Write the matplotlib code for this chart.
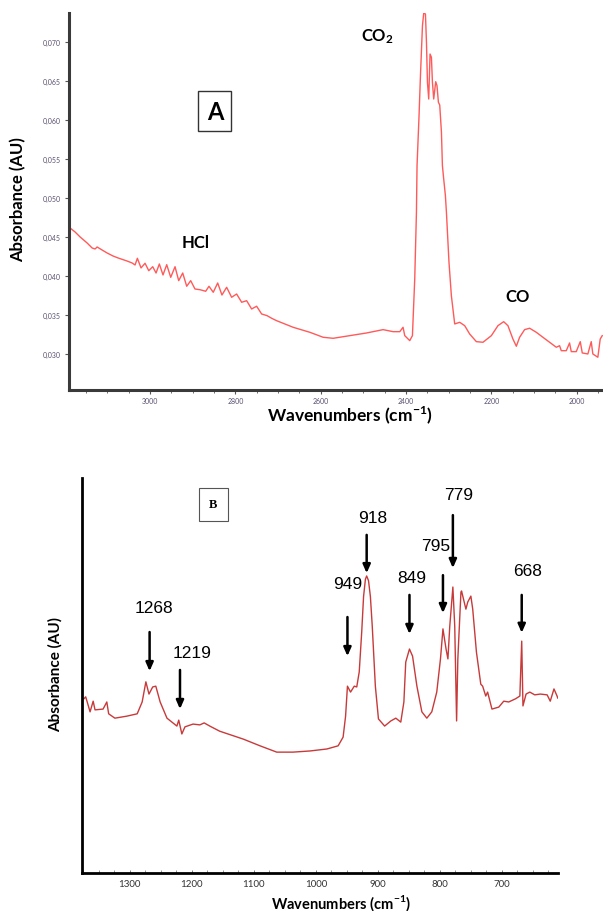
import numpy as np
import matplotlib.pyplot as plt
from matplotlib.ticker import MultipleLocator, FuncFormatter

plt.rcParams['mathtext.fontset'] = 'custom'
plt.rcParams['mathtext.rm'] = 'Lato'
plt.rcParams['mathtext.bf'] = 'Lato:bold'

# Panel A: gas-phase spectrum (wavenumber, absorbance)
wn_a = [3187.4, 3175.7, 3163.9, 3147.5, 3135.8, 3128.8, 3124.1, 3112.4, 3100.7,
        3086.7, 3074.9, 3053.9, 3042.2, 3035.1,
        3029.7, 3021.1, 3011.7, 3003.0, 2993.7, 2985.9, 2978.2, 2969.6, 2960.9,
        2951.5, 2941.4, 2932.8, 2923.4, 2914.0, 2904.7, 2894.6, 2882.9, 2869.5,
        2861.8, 2851.8, 2841.4, 2831.4, 2820.4, 2808.7, 2797.0, 2785.2, 2773.5,
        2761.8, 2750.1, 2738.4, 2725.5, 2715.0,
        2703.3, 2664.4, 2625.3, 2594.1, 2570.7, 2531.6, 2492.5, 2453.6, 2430.2,
        2414.5, 2406.8, 2402.8, 2391.1, 2384.8, 2379.4, 2375.4, 2374.0, 2369.3,
        2366.0, 2361.3, 2358.3, 2354.3, 2351.9, 2349.6, 2346.6, 2343.5, 2340.3,
        2337.9, 2334.9, 2330.2, 2327.2, 2323.9, 2320.8, 2316.8, 2314.5, 2311.5,
        2307.5, 2305.1, 2299.1, 2293.5, 2285.7, 2274.0, 2262.3, 2250.6, 2234.9,
        2219.4, 2199.7, 2184.3, 2170.9, 2160.9, 2149.2, 2141.2, 2133.5, 2121.8,
        2110.0, 2094.4, 2078.9, 2063.2, 2047.5, 2039.8, 2035.8, 2024.1, 2016.4,
        2012.4, 2000.7, 1991.3, 1986.6, 1973.5, 1965.6, 1961.8, 1950.1, 1944.5,
        1939.8]
abs_a = [0.04615, 0.04564, 0.04500, 0.04423, 0.04359, 0.04346, 0.04372, 0.04333, 0.04295,
         0.04256, 0.04231, 0.04192, 0.04167, 0.04141,
         0.04227, 0.04103, 0.04163, 0.04068, 0.04119, 0.04038, 0.04154, 0.04013, 0.04145,
         0.03983, 0.04119, 0.03940, 0.04038, 0.03868, 0.03940, 0.03833, 0.03824, 0.03804,
         0.03868, 0.03791, 0.03910, 0.03756, 0.03855, 0.03727, 0.03769, 0.03663, 0.03683,
         0.03577, 0.03612, 0.03513, 0.03491, 0.03458,
         0.03427, 0.03342, 0.03278, 0.03214, 0.03201, 0.03235, 0.03269, 0.03312, 0.03286,
         0.03286, 0.03342, 0.03235, 0.03171, 0.03235, 0.03962, 0.04817, 0.05414, 0.06055,
         0.06568, 0.07209, 0.07372, 0.07359, 0.06996, 0.06483, 0.06269, 0.06846, 0.06804,
         0.06483, 0.06269, 0.06491, 0.06440, 0.06227, 0.06192, 0.05842, 0.05414, 0.05244,
         0.05030, 0.04817, 0.04176, 0.03747, 0.03385, 0.03406, 0.03363, 0.03256, 0.03158,
         0.03150, 0.03235, 0.03363, 0.03414, 0.03363, 0.03192, 0.03099, 0.03214, 0.03312,
         0.03330, 0.03278, 0.03214, 0.03150, 0.03086, 0.03106, 0.03042, 0.03042, 0.03141,
         0.03030, 0.03030, 0.03158, 0.03013, 0.03000, 0.03158, 0.03000, 0.02958, 0.03192,
         0.03235]
a_xticks = [3000, 2800, 2600, 2400, 2200, 2000]
a_yticks = [0.030, 0.035, 0.040, 0.045, 0.050, 0.055, 0.060, 0.065, 0.070]
a_bands = ['HCl', r'$\mathbf{CO_2}$', 'CO']
a_band_wn = [2892, 2466, 2138]
a_band_abs = [0.04436, 0.07077, 0.03744]

# Panel B: solid-phase spectrum (wavenumber, absorbance in arbitrary units)
wn_b = [1374, 1371, 1364, 1359, 1356, 1343, 1337, 1334, 1324, 1305, 1288, 1280,
        1274, 1269, 1263, 1258, 1251, 1240, 1224, 1221, 1216, 1211, 1198, 1187,
        1180, 1171, 1155, 1117, 1090, 1063, 1037, 1009, 982, 964, 956, 952, 949,
        944, 938, 934, 930, 926, 923, 920, 918, 915, 912, 909, 904, 899, 889, 879,
        871, 863, 858, 855, 849, 844, 837, 829, 821, 813, 805, 799, 795, 790, 787,
        784, 779, 776, 773, 771, 766, 765, 758, 755, 750, 747, 741, 734, 731, 726,
        723, 716, 705, 697, 689, 678, 671, 668, 666, 661, 655, 647, 638, 627, 622,
        616, 611, 610]
abs_b = [0.441, 0.446, 0.408, 0.435, 0.413, 0.415, 0.433, 0.403, 0.392, 0.397, 0.403, 0.433,
         0.484, 0.453, 0.471, 0.473, 0.433, 0.392, 0.372, 0.387, 0.352, 0.370, 0.377, 0.375,
         0.380, 0.372, 0.359, 0.339, 0.322, 0.306, 0.306, 0.309, 0.314, 0.322, 0.344, 0.397, 0.473,
         0.458, 0.473, 0.471, 0.509, 0.610, 0.700, 0.744, 0.752, 0.740, 0.700, 0.625, 0.473, 0.390, 0.372, 0.385,
         0.392, 0.382, 0.433, 0.534, 0.567, 0.549, 0.473, 0.408, 0.392, 0.408, 0.458, 0.542, 0.618, 0.567, 0.542,
         0.625, 0.724, 0.625, 0.385, 0.542, 0.711, 0.714, 0.668, 0.686, 0.701, 0.668, 0.559, 0.478, 0.473, 0.448,
         0.458, 0.415, 0.420, 0.435, 0.433, 0.441, 0.448, 0.587, 0.423, 0.453, 0.458, 0.451, 0.453, 0.451, 0.435,
         0.466, 0.448, 0.443]
b_peaks = [1268, 1219, 949, 918, 849, 795, 779, 668]
b_xticks = [1300, 1200, 1100, 1000, 900, 800, 700]

# arrow layout for panel B: tail y, tip y, label y (axes units), label shift (points)
arrow_tail = [0.610, 0.514, 0.648, 0.856, 0.704, 0.754, 0.906, 0.704]
arrow_tip = [0.511, 0.415, 0.549, 0.759, 0.605, 0.658, 0.772, 0.608]
label_y = [0.673, 0.559, 0.732, 0.899, 0.747, 0.830, 0.957, 0.767]
label_dx = [3, 9, 0, 4, 2, -5, 4, 4]

fig = plt.figure(figsize=(6.03, 9.12), dpi=100)

# ---- panel A ----
ax1 = fig.add_axes([69 / 603, 1 - 391 / 912, 534 / 603, 377 / 912])
ax1.plot(wn_a, abs_a, color='#ff5a5a', lw=1.0)
ax1.set_xlim(3190, 1938)
ax1.set_ylim(0.02538, 0.07372)
ax1.set_xticks(a_xticks)
ax1.xaxis.set_minor_locator(MultipleLocator(50))
ax1.set_yticks(a_yticks)
ax1.yaxis.set_major_formatter(FuncFormatter(lambda v, p: f'{v:.3f}'.replace('.', ',')))
for s in ['top', 'right']:
    ax1.spines[s].set_visible(False)
for s in ['left', 'bottom']:
    ax1.spines[s].set_linewidth(2.2)
    ax1.spines[s].set_color('#3a3a3a')
ax1.tick_params(axis='both', which='major', labelsize=5, labelcolor='#5a5070',
                color='#555555', length=3, width=0.8, pad=3)
ax1.tick_params(axis='x', which='major', pad=2)
ax1.tick_params(axis='x', which='minor', length=2, width=0.6, color='#555555')
for lab in ax1.get_xticklabels() + ax1.get_yticklabels():
    lab.set_family('Lato')

for name, x, y in zip(a_bands, a_band_wn, a_band_abs):
    ax1.text(x, y, name, ha='center', va='center', fontsize=12,
             fontweight='bold', family='Lato')
ax1.text(2848, 0.06115, 'A', ha='center', va='center', fontsize=17,
         fontweight='bold', family='Lato',
         bbox=dict(boxstyle='square,pad=0.35', fc='white', ec='#333333', lw=1))

fig.text(18 / 603, 1 - 200 / 912, 'Absorbance (AU)', rotation=90, ha='center',
         va='center', fontsize=12, fontweight='bold', family='Lato')
fig.text(350 / 603, 1 - 415 / 912, r'Wavenumbers (cm$^{\mathbf{-1}}$)', ha='center',
         va='center', fontsize=12.5, fontweight='bold', family='Lato')

# ---- panel B ----
ax2 = fig.add_axes([82 / 603, 1 - 874 / 912, 476 / 603, 395 / 912])
ax2.plot(wn_b, abs_b, color='#c83a3a', lw=1.0)
ax2.set_xlim(1377, 609.5)
ax2.set_ylim(0, 1)
ax2.set_xticks(b_xticks)
ax2.xaxis.set_minor_locator(MultipleLocator(25))
ax2.set_yticks([])
for s in ['top', 'right']:
    ax2.spines[s].set_visible(False)
for s in ['left', 'bottom']:
    ax2.spines[s].set_linewidth(2)
    ax2.spines[s].set_color('black')
ax2.tick_params(axis='x', which='major', labelsize=7, labelcolor='#333333',
                length=2.5, width=0.6, color='#666666', direction='in', pad=4)
ax2.tick_params(axis='x', which='minor', length=2, width=0.5, color='#666666',
                direction='in')
for lab in ax2.get_xticklabels():
    lab.set_family('Lato')

for wn, t0, t1, ty, dx in zip(b_peaks, arrow_tail, arrow_tip, label_y, label_dx):
    ax2.annotate('', xy=(wn, t1), xytext=(wn, t0),
                 arrowprops=dict(arrowstyle='-|>,head_length=0.5,head_width=0.22',
                                 lw=1.8, color='black', shrinkA=0, shrinkB=0))
    ax2.annotate(str(wn), xy=(wn, ty), xytext=(dx, 0), textcoords='offset points',
                 ha='center', va='center', fontsize=12.5, family='Liberation Sans')

ax2.text(1165, 0.933, 'B', ha='center', va='center', fontsize=9,
         fontweight='bold', family='Liberation Serif',
         bbox=dict(boxstyle='square,pad=0.85', fc='white', ec='#555555', lw=0.8))

fig.text(55 / 603, 1 - 675 / 912, 'Absorbance (AU)', rotation=90, ha='center',
         va='center', fontsize=11, fontweight='bold', family='Lato')
fig.text(341 / 603, 1 - 903 / 912, r'Wavenumbers (cm$^{\mathbf{-1}}$)', ha='center',
         va='center', fontsize=10.5, fontweight='bold', family='Lato')

fig.savefig('out.png', dpi=100)
